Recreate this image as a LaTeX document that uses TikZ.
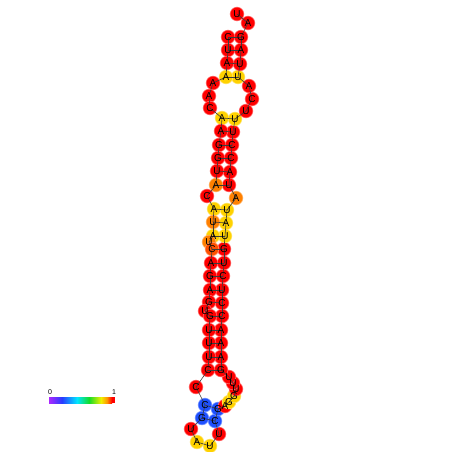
\documentclass[tikz,border=0pt]{standalone}
\usepackage{fontspec}
\setmainfont{Liberation Sans}
\pgfdeclarelayer{bgl}
\pgfdeclarelayer{midl}
\pgfsetlayers{bgl,midl,main}
\definecolor{cR}{RGB}{255,0,0}
\definecolor{cO}{RGB}{255,128,0}
\definecolor{cQ}{RGB}{255,80,0}
\definecolor{cY}{RGB}{255,210,0}
\definecolor{cB}{RGB}{30,80,255}
\definecolor{lnc}{RGB}{60,60,60}
\definecolor{cP}{RGB}{170,40,255}
\definecolor{cBl}{RGB}{40,60,255}
\definecolor{cC}{RGB}{0,230,255}
\definecolor{cG}{RGB}{20,220,40}
\definecolor{cYY}{RGB}{240,240,0}
\definecolor{cOO}{RGB}{255,150,0}
\tikzset{
  nt/.style={circle,inner sep=0pt,minimum size=12pt,font=\fontsize{10}{10}\selectfont},
  bb/.style={draw=lnc,line width=0.6pt},
}
\begin{document}
\begin{tikzpicture}[x=1pt,y=-1pt]
\useasboundingbox (0,0) rectangle (452,452);
\foreach \i/\l/\x/\y/\c in {
1/C/205/405/cB, 2/G/202/418/cB, 3/U/191/429/cR, 4/A/197/442/cY, 5/U/210/446/cY,
6/U/219/434/cR, 7/C/215/421/cB, 8/G/218/409/cB, 9/A/225/406/cR, 10/G/229/402/cY,
11/G/234/396/cY, 12/U/236/389/cR, 13/U/233/383/cR, 14/U/229/377/cR, 15/G/221/370/cR,
16/A/221/357/cR, 17/A/221/343/cR, 18/A/221/330/cR, 19/C/222/316/cR, 20/C/222/303/cR,
21/U/222/290/cR, 22/C/223/276/cR, 23/U/224/263/cR, 24/G/224/249/cR, 25/U/225/236/cY,
26/A/226/223/cY, 27/U/227/210/cY, 28/A/236/198/cO, 29/U/229/185/cR, 30/A/230/172/cR,
31/C/231/158/cR, 32/C/232/145/cR, 33/U/233/132/cR, 34/U/235/119/cY, 35/U/246/111/cR,
36/C/252/99/cR, 37/A/249/86/cR, 38/U/238/77/cY, 39/U/240/64/cR, 40/A/241/50/cR,
41/G/241/37/cR, 42/A/248/23/cR, 43/U/237/14/cR, 44/C/228/37/cR, 45/U/228/50/cR,
46/A/227/63/cR, 47/A/226/77/cY, 48/A/213/83/cR, 49/A/209/96/cR, 50/C/210/108/cR,
51/A/222/118/cY, 52/A/221/131/cR, 53/G/219/145/cR, 54/G/218/158/cR, 55/U/217/171/cR,
56/A/216/185/cO, 57/C/207/196/cR, 58/A/214/209/cY, 59/U/213/222/cO, 60/A/213/236/cY,
61/U/209/242/cO, 62/C/212/249/cQ, 63/A/211/263/cR, 64/G/210/276/cR, 65/A/210/290/cR,
66/G/209/302/cR, 67/U/205/311/cR, 68/G/210/316/cR, 69/U/209/330/cR, 70/U/209/343/cR,
71/U/209/357/cR, 72/C/208/370/cR, 73/C/196/387/cR}
{
  \node[nt] (n\i) at (\x,\y) {\l};
  \begin{pgfonlayer}{bgl}
    \fill[\c!60!white] (\x,\y) circle (7.2);
    \fill[\c] (\x,\y) circle (6.4);
  \end{pgfonlayer}
}
\begin{pgfonlayer}{midl}
\foreach \a/\b in {1/2,2/3,3/4,4/5,5/6,6/7,7/8,8/9,9/10,10/11,11/12,12/13,13/14,14/15,
15/16,16/17,17/18,18/19,19/20,20/21,21/22,22/23,23/24,24/25,25/26,26/27,27/28,28/29,29/30,
30/31,31/32,32/33,33/34,34/35,35/36,36/37,37/38,38/39,39/40,40/41,41/42,42/43,44/45,
45/46,46/47,47/48,48/49,49/50,50/51,51/52,52/53,53/54,54/55,55/56,56/57,57/58,58/59,59/60,
60/61,61/62,62/63,63/64,64/65,65/66,66/67,67/68,68/69,69/70,70/71,71/72,72/73,73/1,
1/8,2/7,15/72,16/71,17/70,18/69,19/68,20/66,21/65,22/64,23/63,24/62,25/60,26/59,27/58,
29/56,30/55,31/54,32/53,33/52,34/51,38/47,39/46,40/45,41/44}
  \draw[bb] (n\a.center) -- (n\b.center);
\end{pgfonlayer}
% colour bar
\shade[left color=cP,right color=cBl] (49,397) rectangle (62,403);
\shade[left color=cBl,right color=cC] (62,397) rectangle (77,403);
\shade[left color=cC,right color=cG] (77,397) rectangle (89,403);
\shade[left color=cG,right color=cYY] (89,397) rectangle (101,403);
\shade[left color=cYY,right color=cOO] (101,397) rectangle (107,403);
\shade[left color=cOO,right color=cR] (107,397) rectangle (112,403);
\fill[cR] (112,397) rectangle (115,403);
\node[font=\fontsize{7}{7}\selectfont] (lo) at (50,392.5) {0};
\node[font=\fontsize{7}{7}\selectfont] (hi) at (114,392.5) {1};
\end{tikzpicture}
\end{document}
